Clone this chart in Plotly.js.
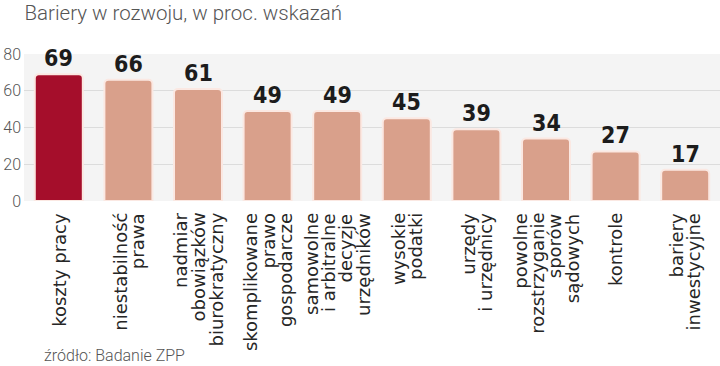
<!DOCTYPE html>
<html><head><meta charset="utf-8">
<script src="https://cdn.plot.ly/plotly-3.0.1.min.js"></script>
<style>html,body{margin:0;padding:0;background:#fff;}#chart{width:720px;height:366px;}</style>
</head><body><div id="chart"></div>
<script>
var categories = ["koszty pracy","niestabilność prawa","nadmiar obowiązków biurokratyczny","skomplikowane prawo gospodarcze","samowolne i arbitralne decyzje urzędników","wysokie podatki","urzędy i urzędnicy","powolne rozstrzyganie sporów sądowych","kontrole","bariery inwestycyjne"];
var labelLines = [["koszty pracy"],["niestabilność","prawa"],["nadmiar","obowiązków","biurokratyczny"],["skomplikowane","prawo","gospodarcze"],["samowolne","i arbitralne","decyzje","urzędników"],["wysokie","podatki"],["urzędy","i urzędnicy"],["powolne","rozstrzyganie","sporów","sądowych"],["kontrole"],["bariery","inwestycyjne"]];
var values = [69,66,61,49,49,45,39,34,27,17];
var yTicks = [0,20,40,60,80];
var highlightColor = "#a50e2b", baseColor = "#d9a08b";
var colors = values.map(function(v,i){return i===0?highlightColor:baseColor;});

var trace = {
  type:"bar", x: categories, y: values,
  marker:{color:colors, line:{color:"#fbe8e2", width:2}, cornerradius:4},
  hoverinfo:"skip"
};

var annotations = [];
values.forEach(function(v,i){
  annotations.push({x:categories[i], y:v, xref:"x", yref:"y", text:String(v), showarrow:false,
    xanchor:"center", yanchor:"bottom", yshift:1,
    font:{family:"DejaVu Sans Condensed", size:23, weight:"bold", color:"#1c1c1c"}});
});
var LS = 17.5;
labelLines.forEach(function(lines,i){
  var n = lines.length;
  lines.forEach(function(line,j){
    annotations.push({x:categories[i], y:0, xref:"x", yref:"paper", text:line, showarrow:false,
      textangle:-90, xanchor:"center", yanchor:"top", yshift:-11, xshift:(j-(n-1)/2)*LS,
      borderpad:0,
      font:{family:"DejaVu Sans", size:18, color:"#262626"}});
  });
});
annotations.push({text:"źródło: Badanie ZPP", xref:"paper", yref:"paper", x:(42-24)/696, y:-1.05, xanchor:"left", yanchor:"middle",
    showarrow:false, font:{family:"Roboto", size:16, weight:300, color:"#555"}});

var layout = {
  width:720, height:366,
  margin:{l:24, r:0, t:54, b:165},
  paper_bgcolor:"#ffffff", plot_bgcolor:"#f4f4f4",
  bargap:0.31,
  showlegend:false,
  title:{text:"Bariery w rozwoju, w proc. wskazań", x:0.034, xanchor:"left", y:0.985, yanchor:"top",
    font:{family:"Roboto", size:20.5, weight:300, color:"#555"}},
  xaxis:{type:"category", showticklabels:false, ticks:"", showline:false, showgrid:false, automargin:false},
  yaxis:{range:[0,80], tickvals:yTicks, ticks:"", showline:false, zeroline:false,
    gridcolor:"#dcdcdc", gridwidth:1, tickfont:{family:"Roboto", size:16, weight:300, color:"#555"},
    automargin:false, ticklabelstandoff:2},
  annotations:annotations
};
Plotly.newPlot("chart",[trace],layout,{displayModeBar:false,staticPlot:true});
</script></body></html>
